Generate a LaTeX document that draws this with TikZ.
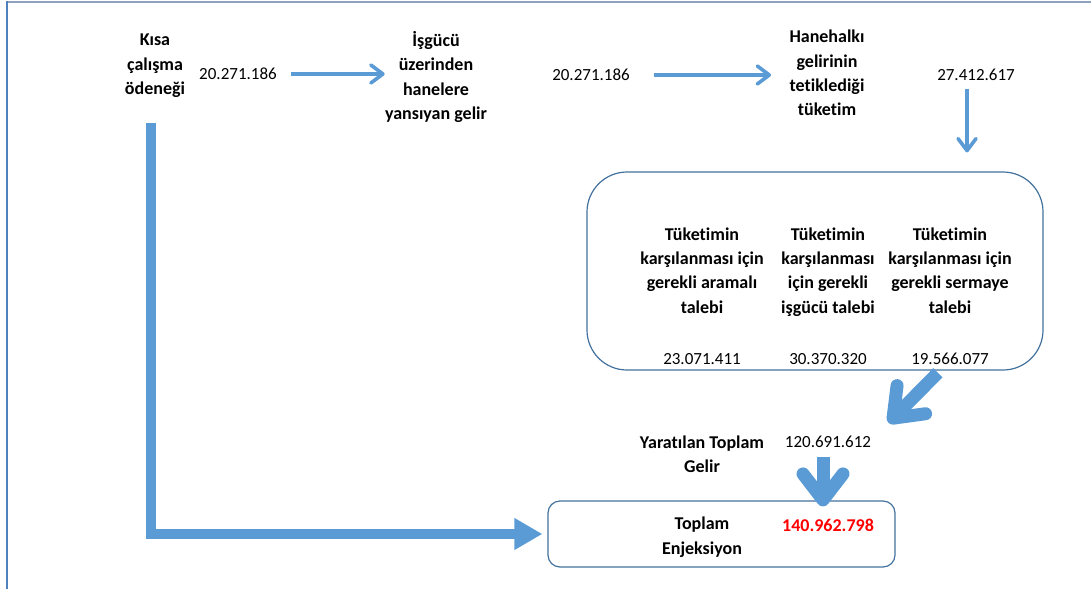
\documentclass[tikz,border=0pt]{standalone}
\usepackage{fontspec}
\setmainfont{Carlito}[Ligatures=NoCommon, Contextuals=NoAlternate]
\usetikzlibrary{arrows.meta}
\definecolor{flowblue}{HTML}{5B9BD5}
\definecolor{boxblue}{HTML}{41719C}
\definecolor{framegray}{HTML}{8EA3C0}
\definecolor{frameblue}{HTML}{4F81BD}
\begin{document}
\begin{tikzpicture}[x=0.5pt, y=-0.5pt,
  lbl/.style={font=\fontsize{9}{12.2}\selectfont\bfseries, align=center, inner sep=0pt},
  num/.style={font=\fontsize{8.5}{12.2}\selectfont, inner sep=0pt},
  thinflow/.style={flowblue, line width=1.8pt, -{Straight Barb[length=6pt,width=9pt,round]}},
  fatflow/.style={flowblue, line width=6.5pt, -{Straight Barb[length=13pt,width=20pt,round]}},
  bigflow/.style={flowblue, line width=4.8pt, -{Triangle[length=14pt,width=15pt]}},
  roundbox/.style={draw=boxblue, line width=0.6pt, rounded corners=#1}]
  \useasboundingbox (0,0) rectangle (1091,589); % Page size
  % Frame lines
  \draw[framegray, line width=1pt] (7,1.5) -- (1091,1.5);
  \draw[frameblue, line width=0.6pt] (7,1) -- (7,589);

  % Top row
  \node[lbl] (kisa) at (155,66) {Kısa\\çalışma\\ödeneği};
  \node[num] (v1) at (238,74) {20.271.186};
  \node[lbl] (isgucu) at (436,77) {İşgücü\\üzerinden\\hanelere\\yansıyan gelir};
  \node[num] (v2) at (591,75) {20.271.186};
  \node[lbl] (hane) at (827,73) {Hanehalkı\\gelirinin\\tetiklediği\\tüketim};
  \node[num] (v3) at (976,75) {27.412.617};

  % Demand box
  \node[roundbox=20pt, minimum width=228pt, minimum height=99pt] (demand) at (815,271) {};
  \node[lbl, anchor=north] (aramali) at (702,227) {Tüketimin\\karşılanması için\\gerekli aramalı\\talebi};
  \node[lbl, anchor=north] (isgucutalep) at (828,227) {Tüketimin\\karşılanması\\için gerekli\\işgücü talebi};
  \node[lbl, anchor=north] (sermaye) at (950,227) {Tüketimin\\karşılanması için\\gerekli sermaye\\talebi};
  \node[num] (n1) at (702,359) {23.071.411};
  \node[num] (n2) at (828,359) {30.370.320};
  \node[num] (n3) at (950,359) {19.566.077};

  % Totals
  \node[lbl] (yaratilan) at (702,454) {Yaratılan Toplam\\Gelir};
  \node[num] (total) at (828,442) {120.691.612};
  \node[roundbox=6pt, minimum width=173.5pt, minimum height=33pt] (inj) at (721.5,534) {};
  \node[lbl] (toplam) at (702,537) {Toplam\\Enjeksiyon};
  \node[lbl, text=red] (injval) at (828,525) {140.962.798};

  % Arrows
  \draw[thinflow, shorten <=7pt] (v1.east) -- (v1.east -| isgucu.west);
  \draw[thinflow, shorten <=12pt, shorten >=9pt] (v2.east) -- (v2.east -| hane.west);
  \draw[thinflow, shorten <=4pt, shorten >=9.5pt] ([xshift=-4.5pt]v3.south) -- ([xshift=-4.5pt]v3.south |- demand.north);
  \draw[fatflow, shorten <=1.5pt] ([xshift=62.5pt]demand.south) -- ([shift={(8.5pt,6.5pt)}]total.north east); % Into total income
  \draw[fatflow, shorten <=4.5pt, shorten >=-3pt] ([xshift=-2.5pt]total.south) -- ([xshift=-2.5pt]total.south |- inj.north);
  \draw[bigflow, shorten <=12.5pt, shorten >=2.5pt] ([xshift=-2pt]kisa.south) |- (inj.west); % Direct injection
\end{tikzpicture}
\end{document}
